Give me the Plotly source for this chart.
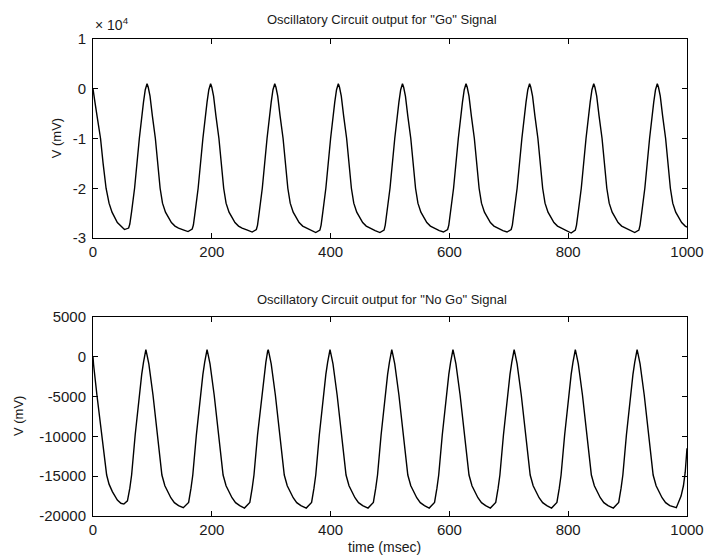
import plotly.graph_objects as go

# ---------------- data ----------------
go_time = [
    0, 1, 3, 7.5, 12.7, 17, 22, 27, 32, 41, 47,
    53, 60, 62, 65, 70, 78, 82, 85, 88, 91,
    93, 96, 100, 105, 113, 117, 122, 127, 132, 138, 144, 153,
    160, 167, 169, 172, 177, 185, 189, 192, 195, 198,
    200, 203, 207, 212, 220, 224, 229, 234, 239, 245, 251, 260,
    268, 275, 277, 280, 285, 293, 297, 300, 303, 306,
    308, 311, 315, 320, 328, 332, 337, 342, 347, 353, 359, 368,
    375, 382, 384, 387, 392, 400, 404, 407, 410, 413,
    415, 418, 422, 427, 435, 439, 444, 449, 454, 460, 466, 475,
    483, 490, 492, 495, 500, 508, 512, 515, 518, 521,
    523, 526, 530, 535, 543, 547, 552, 557, 562, 568, 574, 583,
    590, 597, 599, 602, 607, 615, 619, 622, 625, 628,
    630, 633, 637, 642, 650, 654, 659, 664, 669, 675, 681, 690,
    697, 704, 706, 709, 714, 722, 726, 729, 732, 735,
    737, 740, 744, 749, 757, 761, 766, 771, 776, 782, 788, 797,
    805, 812, 814, 817, 822, 830, 834, 837, 840, 843,
    845, 848, 852, 857, 865, 869, 874, 879, 884, 890, 896, 905,
    912, 919, 921, 924, 929, 937, 941, 944, 947, 950,
    952, 955, 959, 964, 972, 976, 981, 986, 991, 997, 1000,
]
go_mv = [
    0, -1200, -2500, -6000, -10000, -15000, -20000, -23000, -24800, -26900, -27700,
    -28300, -28000, -27200, -24700, -20000, -10000, -5500, -2700, -200, 1000,
    300, -1500, -5500, -10000, -20000, -23000, -24800, -26000, -26900, -27600, -28000, -28400,
    -28700, -28200, -27400, -24700, -20000, -10000, -5500, -2700, -200, 1000,
    300, -1500, -5500, -10000, -20000, -23000, -24800, -26000, -26900, -27600, -28000, -28400,
    -28800, -28300, -27400, -24700, -20000, -10000, -5500, -2700, -200, 1000,
    300, -1500, -5500, -10000, -20000, -23000, -24800, -26000, -26900, -27600, -28000, -28500,
    -28900, -28400, -27400, -24700, -20000, -10000, -5500, -2700, -200, 1000,
    300, -1500, -5500, -10000, -20000, -23000, -24800, -26000, -26900, -27600, -28000, -28500,
    -28900, -28400, -27400, -24700, -20000, -10000, -5500, -2700, -200, 1000,
    300, -1500, -5500, -10000, -20000, -23000, -24800, -26000, -26900, -27600, -28000, -28500,
    -28800, -28300, -27400, -24700, -20000, -10000, -5500, -2700, -200, 1000,
    300, -1500, -5500, -10000, -20000, -23000, -24800, -26000, -26900, -27600, -28000, -28500,
    -28800, -28300, -27400, -24700, -20000, -10000, -5500, -2700, -200, 1000,
    300, -1500, -5500, -10000, -20000, -23000, -24800, -26000, -26900, -27600, -28000, -28600,
    -29000, -28400, -27400, -24700, -20000, -10000, -5500, -2700, -200, 1000,
    300, -1500, -5500, -10000, -20000, -23000, -24800, -26000, -26900, -27600, -28000, -28500,
    -28900, -28400, -27400, -24700, -20000, -10000, -5500, -2700, -200, 1000,
    300, -1500, -5500, -10000, -20000, -23000, -24800, -26000, -26900, -27600, -27800,
]

nogo_time = [
    0, 1, 6.6, 15, 23, 27, 32.6, 41, 47,
    52, 58, 62, 65, 71, 78, 82, 85, 88, 89,
    91, 94, 101, 109, 116, 121, 126, 131, 137, 144,
    152, 161, 165, 168, 174, 181, 185, 188, 191, 192,
    194, 197, 204, 212, 219, 224, 229, 234, 240, 247,
    255, 264, 268, 271, 277, 284, 288, 291, 294, 295,
    297, 300, 307, 315, 322, 327, 332, 337, 343, 350,
    359, 368, 372, 375, 381, 388, 392, 395, 398, 399,
    401, 404, 411, 419, 426, 431, 436, 441, 447, 454,
    463, 472, 476, 479, 485, 492, 496, 499, 502, 503,
    505, 508, 515, 523, 530, 535, 540, 545, 551, 558,
    566, 575, 579, 582, 588, 595, 599, 602, 605, 606,
    608, 611, 618, 626, 633, 638, 643, 648, 654, 661,
    669, 678, 682, 685, 691, 698, 702, 705, 708, 709,
    711, 714, 721, 729, 736, 741, 746, 751, 757, 764,
    772, 781, 785, 788, 794, 801, 805, 808, 811, 812,
    814, 817, 824, 832, 839, 844, 849, 854, 860, 867,
    876, 885, 889, 892, 898, 905, 909, 912, 915, 916,
    918, 921, 928, 936, 943, 948, 953, 958, 964, 971,
    982, 990, 994, 997, 1000,
]
nogo_mv = [
    0, -1000, -4800, -9820, -14850, -16000, -16940, -18000, -18400,
    -18500, -18100, -16500, -14850, -9820, -4800, -2200, -700, 700, 900,
    200, -900, -4800, -9820, -14850, -16200, -16940, -17700, -18320, -18700,
    -18950, -18300, -16500, -14850, -9820, -4800, -2200, -700, 700, 900,
    200, -900, -4800, -9820, -14850, -16200, -16940, -17700, -18320, -18700,
    -19000, -18300, -16500, -14850, -9820, -4800, -2200, -700, 700, 900,
    200, -900, -4800, -9820, -14850, -16200, -16940, -17700, -18320, -18700,
    -19000, -18300, -16500, -14850, -9820, -4800, -2200, -700, 700, 900,
    200, -900, -4800, -9820, -14850, -16200, -16940, -17700, -18320, -18700,
    -19000, -18300, -16500, -14850, -9820, -4800, -2200, -700, 700, 900,
    200, -900, -4800, -9820, -14850, -16200, -16940, -17700, -18320, -18700,
    -19000, -18300, -16500, -14850, -9820, -4800, -2200, -700, 700, 900,
    200, -900, -4800, -9820, -14850, -16200, -16940, -17700, -18320, -18700,
    -19000, -18300, -16500, -14850, -9820, -4800, -2200, -700, 700, 900,
    200, -900, -4800, -9820, -14850, -16200, -16940, -17700, -18320, -18700,
    -19000, -18300, -16500, -14850, -9820, -4800, -2200, -700, 700, 900,
    200, -900, -4800, -9820, -14850, -16200, -16940, -17700, -18320, -18700,
    -19000, -18300, -16500, -14850, -9820, -4800, -2200, -700, 700, 900,
    200, -900, -4800, -9820, -14850, -16200, -16940, -17700, -18320, -18700,
    -18950, -17500, -16200, -14500, -11500,
]

x_ticks = [0, 200, 400, 600, 800, 1000]
go_yticks = [-30000, -20000, -10000, 0, 10000]
go_yticktext = ["-3", "-2", "-1", "0", "1"]
nogo_yticks = [-20000, -15000, -10000, -5000, 0, 5000]
nogo_yticktext = ["-20000", "-15000", "-10000", "-5000", "0", "5000"]

title_go = 'Oscillatory Circuit output for "Go" Signal'
title_nogo = 'Oscillatory Circuit output for "No Go" Signal'
y_label = "V (mV)"
x_label = "time (msec)"

# ---------------- figure ----------------
FONT = "Arial, Liberation Sans, sans-serif"
TXT = "#1a1a1a"

fig = go.Figure()
fig.add_trace(go.Scatter(x=go_time, y=go_mv, mode="lines",
                         line=dict(color="black", width=1.4),
                         xaxis="x", yaxis="y", showlegend=False))
fig.add_trace(go.Scatter(x=nogo_time, y=nogo_mv, mode="lines",
                         line=dict(color="black", width=1.4),
                         xaxis="x2", yaxis="y2", showlegend=False))

axis_common = dict(showline=True, linecolor="black", linewidth=1, mirror="ticks",
                   ticks="inside", ticklen=5, tickcolor="black", tickwidth=1,
                   showgrid=False, zeroline=False,
                   tickfont=dict(family=FONT, size=15, color=TXT))

fig.update_layout(
    width=716, height=559,
    margin=dict(l=93, r=17, t=39, b=43),
    paper_bgcolor="white", plot_bgcolor="white",
    xaxis=dict(domain=[0, 1], anchor="y", range=[0, 1000], tickvals=x_ticks, **axis_common),
    yaxis=dict(domain=[0.5828, 1], anchor="x", range=[-30000, 10000],
               tickvals=go_yticks, ticktext=go_yticktext, ticklabelstandoff=3, **axis_common),
    xaxis2=dict(domain=[0, 1], anchor="y2", range=[0, 1000], tickvals=x_ticks, **axis_common),
    yaxis2=dict(domain=[0, 0.4172], anchor="x2", range=[-20000, 5000],
                tickvals=nogo_yticks, ticktext=nogo_yticktext, ticklabelstandoff=3, **axis_common),
)

ann_font = dict(family=FONT, size=13, color=TXT)
fig.add_annotation(text=title_go, xref="paper", yref="paper", x=0.487, y=1.040,
                   xanchor="center", yanchor="middle", showarrow=False, font=ann_font)
fig.add_annotation(text=title_nogo, xref="paper", yref="paper", x=0.487, y=0.4545,
                   xanchor="center", yanchor="middle", showarrow=False, font=ann_font)
fig.add_annotation(text=x_label, xref="paper", yref="paper", x=0.49, y=-0.065,
                   xanchor="center", yanchor="middle", showarrow=False,
                   font=dict(family=FONT, size=14, color=TXT))
fig.add_annotation(text=y_label, xref="paper", yref="paper", x=-0.061, y=0.7914,
                   xanchor="center", yanchor="middle", textangle=-90, showarrow=False,
                   font=dict(family=FONT, size=13, color=TXT))
fig.add_annotation(text=y_label, xref="paper", yref="paper", x=-0.1254, y=0.2086,
                   xanchor="center", yanchor="middle", textangle=-90, showarrow=False,
                   font=dict(family=FONT, size=13, color=TXT))
fig.add_annotation(text="\u00d7 10<sup>4</sup>", xref="paper", yref="paper", x=0.0, y=1.008,
                   xanchor="left", yanchor="bottom", showarrow=False,
                   font=dict(family=FONT, size=14, color=TXT))

fig.write_html("out.html")
